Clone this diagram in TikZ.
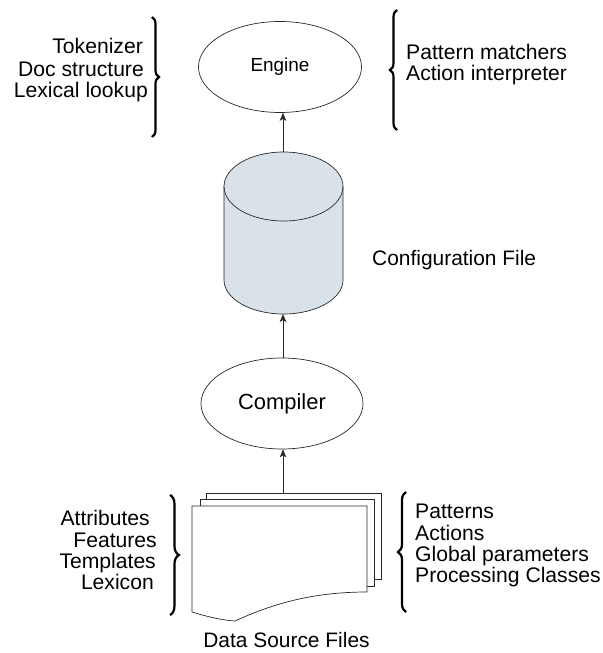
\documentclass[tikz,border=0pt]{standalone}
\usepackage{fontspec}
\setmainfont{Liberation Sans}
\usetikzlibrary{shapes.geometric,arrows.meta,decorations.pathreplacing}
\definecolor{cylfill}{RGB}{217,226,233}
\definecolor{linec}{RGB}{40,40,40}
\tikzset{
  lbl/.style={inner sep=0pt,font=\fontsize{21.2}{22}\selectfont},
  bigl/.style={inner sep=0pt,font=\fontsize{21}{22}\selectfont},
  proc/.style={ellipse,draw=linec,line width=0.7pt,inner sep=0pt},
  conn/.style={draw=linec,line width=0.7pt,-{Stealth[length=8pt,width=6.5pt,inset=2pt]}},
  page/.style={draw=linec,line width=0.7pt,fill=white},
  bracel/.style={decorate,decoration={brace,amplitude=#1},line width=2.2pt},
}
\begin{document}
\begin{tikzpicture}[x=1bp,y=-1bp]
\useasboundingbox (0,0) rectangle (603,653);

% Engine
\node[proc,minimum width=163bp,minimum height=91bp,font=\fontsize{19}{20}\selectfont] (engine) at (280,67) {Engine};

% Cylinder (configuration file)
\fill[cylfill] (224,186.5) -- (224,280) arc[start angle=180,end angle=360,x radius=59.5,y radius=-34] -- (343,186.5) arc[start angle=0,end angle=180,x radius=59.5,y radius=-34.5] -- cycle;
\draw[linec,line width=0.7pt] (224,186.5) -- (224,280) arc[start angle=180,end angle=360,x radius=59.5,y radius=-34] -- (343,186.5);
\draw[linec,line width=0.7pt] (283.5,186.5) ellipse[x radius=59.5,y radius=34.5];
\coordinate (cyltop) at (283,152);
\coordinate (cylbot) at (283,314);
\node[bigl,anchor=base west] (cfg) at (372,265) {Configuration File};

% Compiler
\node[proc,minimum width=162bp,minimum height=91bp,font=\fontsize{22}{22}\selectfont] (compiler) at (282,403.5) {Compiler};

% Document stack
\draw[page] (206,499) -- (206,493) -- (381,493) -- (381,579) -- (374,579);
\draw[page] (200,506) -- (200,499) -- (374,499) -- (374,586) -- (367,586);
\draw[page] (192,506) -- (367,506) -- (367,592)
  .. controls (310,592) and (270,605) .. (235,621)
  .. controls (220,620) and (205,616) .. (192,612) -- cycle;
\coordinate (doctop) at (283,493);
\node[bigl,anchor=base] (dsf) at (286.5,647) {Data Source Files};

% Connectors
\draw[conn] (cyltop) -- (cyltop |- engine.south);
\draw[conn] (cylbot |- compiler.north) -- (cylbot);
\draw[conn] (doctop) -- (doctop |- compiler.south);

% Top-left brace and labels
\draw[bracel=7pt] (152,17) -- (152,137);
\node[lbl,anchor=base east] (t1) at (143,54) {Tokenizer};
\node[lbl,anchor=base east] (t2) at (144,77) {Doc structure};
\node[lbl,anchor=base east] (t3) at (148,98) {Lexical lookup};

% Top-right brace and labels
\draw[bracel=7pt] (397,130) -- (397,10);
\node[lbl,anchor=base west] (r1) at (406,60) {Pattern matchers};
\node[lbl,anchor=base west] (r2) at (406,81) {Action interpreter};

% Bottom-left brace and labels
\draw[bracel=9pt] (170,495) -- (170,615);
\node[lbl,anchor=base east] (b1) at (150,525.5) {Attributes};
\node[lbl,anchor=base east] (b2) at (157,547) {Features};
\node[lbl,anchor=base east] (b3) at (156,568) {Templates};
\node[lbl,anchor=base east] (b4) at (154,589) {Lexicon};

% Bottom-right brace and labels
\draw[bracel=8pt] (406,612) -- (406,492);
\node[lbl,anchor=base west] (p1) at (415,518) {Patterns};
\node[lbl,anchor=base west] (p2) at (415,540) {Actions};
\node[lbl,anchor=base west] (p3) at (415,561) {Global parameters};
\node[lbl,anchor=base west] (p4) at (415,582) {Processing Classes};
\end{tikzpicture}
\end{document}
